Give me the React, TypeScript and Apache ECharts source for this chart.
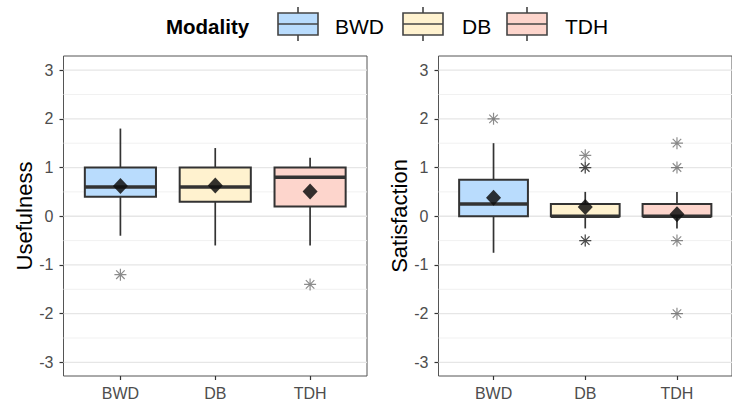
import React, { useEffect, useRef } from "react";
import * as echarts from "echarts";

// ---------- data ----------
const categories = ["BWD", "DB", "TDH"];
// [lower whisker, Q1, median, Q3, upper whisker]
const usefulnessBox = [
  [-0.4, 0.4, 0.6, 1.0, 1.8],
  [-0.6, 0.3, 0.6, 1.0, 1.4],
  [-0.6, 0.2, 0.8, 1.0, 1.2],
];
const usefulnessMean = [0.62, 0.63, 0.51];
const usefulnessOutliers = [
  [0, -1.2],
  [2, -1.4],
];
const satisfactionBox = [
  [-0.75, 0, 0.25, 0.75, 1.5],
  [-0.25, 0, 0, 0.25, 0.5],
  [-0.25, 0, 0, 0.25, 0.5],
];
const satisfactionMean = [0.38, 0.19, 0.04];
const satisfactionOutliers = [
  [0, 2],
  [1, 1.25],
  [1, 1],
  [1, 1],
  [1, -0.5],
  [1, -0.5],
  [2, 1.5],
  [2, 1],
  [2, -0.5],
  [2, -2],
];
const yTicks = [-3, -2, -1, 0, 1, 2, 3];
const yMinorTicks = [-2.5, -1.5, -0.5, 0.5, 1.5, 2.5];
const xTicks = [0, 1, 2];
const legendTitle = "Modality";

// ---------- styles ----------
const FONT = "'Liberation Sans', Arial, sans-serif";
const fills = ["#b9dcfd", "#fff2cf", "#fdd5cc"];
const boxStroke = "#333333";
const X_MIN = -0.6;
const X_MAX = 2.6;
const Y_MIN = -3.28;
const Y_MAX = 3.29;

const boxRender = (params: any, api: any) => {
  const x = api.value(0);
  const low = api.coord([x, api.value(1)]);
  const q1 = api.coord([x, api.value(2)]);
  const med = api.coord([x, api.value(3)]);
  const q3 = api.coord([x, api.value(4)]);
  const high = api.coord([x, api.value(5)]);
  const half = api.size([0.75, 0])[0] / 2;
  const cx = med[0];
  return {
    type: "group",
    children: [
      {
        type: "line",
        shape: { x1: cx, y1: high[1], x2: cx, y2: q3[1] },
        style: { stroke: boxStroke, lineWidth: 1.7 },
      },
      {
        type: "line",
        shape: { x1: cx, y1: q1[1], x2: cx, y2: low[1] },
        style: { stroke: boxStroke, lineWidth: 1.7 },
      },
      {
        type: "rect",
        shape: { x: cx - half, y: q3[1], width: half * 2, height: q1[1] - q3[1] },
        style: { fill: fills[params.dataIndex], stroke: boxStroke, lineWidth: 2 },
      },
      {
        type: "line",
        shape: { x1: cx - half, y1: med[1], x2: cx + half, y2: med[1] },
        style: { stroke: boxStroke, lineWidth: 3.4 },
      },
    ],
  };
};

const gridRender = (params: any, api: any) => {
  const v = api.value(1);
  const major = api.value(2) === 1;
  const p1 = api.coord([X_MIN, v]);
  const p2 = api.coord([X_MAX, v]);
  return {
    type: "line",
    shape: { x1: p1[0], y1: p1[1], x2: p2[0], y2: p2[1] },
    style: { stroke: major ? "#e6e6e6" : "#f1f1f1", lineWidth: major ? 1.3 : 1 },
  };
};

const asterisk =
  "path://M0,-1L0,1M-1,0L1,0M-0.71,-0.71L0.71,0.71M-0.71,0.71L0.71,-0.71";

function panelSeries(idx: number, box: number[][], mean: number[], outliers: number[][]) {
  return [
    {
      type: "custom",
      xAxisIndex: idx,
      yAxisIndex: idx,
      z: 1,
      silent: true,
      encode: { x: 0, y: 1 },
      data: [
        ...yMinorTicks.map((v) => [X_MIN, v, 0]),
        ...yTicks.map((v) => [X_MIN, v, 1]),
      ],
      renderItem: gridRender,
    },
    {
      type: "custom",
      xAxisIndex: idx,
      yAxisIndex: idx,
      z: 2,
      encode: { x: 0, y: [1, 2, 3, 4, 5] },
      data: box.map((b, i) => [i, ...b]),
      renderItem: boxRender,
    },
    {
      type: "scatter",
      xAxisIndex: idx,
      yAxisIndex: idx,
      z: 3,
      symbol: "diamond",
      symbolSize: [15, 16],
      itemStyle: { color: "rgba(15,15,15,0.85)", opacity: 1 },
      data: mean.map((m, i) => [i, m]),
    },
    {
      type: "scatter",
      xAxisIndex: idx,
      yAxisIndex: idx,
      z: 3,
      symbol: asterisk,
      symbolSize: 12,
      itemStyle: {
        color: "transparent",
        borderColor: "rgba(0,0,0,0.45)",
        borderWidth: 1.2,
        opacity: 1,
      },
      data: outliers,
    },
  ];
}

function xAxisCfg(gridIndex: number) {
  return {
    type: "value",
    gridIndex,
    min: X_MIN,
    max: X_MAX,
    axisLine: { show: false, onZero: false },
    splitLine: { show: false },
    axisTick: { show: true, length: 4, customValues: xTicks, lineStyle: { color: "#333", width: 1.2 } },
    axisLabel: {
      customValues: xTicks,
      formatter: (v: number) => categories[v] ?? "",
      fontSize: 16,
      color: "#4d4d4d",
      fontFamily: FONT,
      margin: 9,
    },
  };
}

function yAxisCfg(gridIndex: number, name: string) {
  return {
    type: "value",
    gridIndex,
    min: Y_MIN,
    max: Y_MAX,
    name,
    nameLocation: "middle",
    nameGap: 28,
    nameTextStyle: { fontSize: 22, color: "#000", fontFamily: FONT },
    axisLine: { show: false, onZero: false },
    splitLine: { show: false },
    axisTick: { show: true, length: 4, customValues: yTicks, lineStyle: { color: "#333", width: 1.2 } },
    axisLabel: {
      customValues: yTicks,
      fontSize: 16,
      color: "#4d4d4d",
      fontFamily: FONT,
      margin: 10,
    },
  };
}

function legendKey(x: number, color: string) {
  const w = 40;
  const cx = x + w / 2;
  const s = { stroke: "#444", lineWidth: 1.6 };
  return [
    { type: "line", shape: { x1: cx, y1: 7, x2: cx, y2: 13 }, style: s },
    { type: "line", shape: { x1: cx, y1: 35, x2: cx, y2: 41 }, style: s },
    { type: "rect", shape: { x, y: 13, width: w, height: 22 }, style: { fill: color, ...s } },
    { type: "line", shape: { x1: x, y1: 24, x2: x + w, y2: 24 }, style: s },
  ];
}

export default function App() {
  const ref = useRef<HTMLDivElement>(null);
  useEffect(() => {
    if (!ref.current) return;
    const chart = echarts.init(ref.current, undefined, { renderer: "svg" });
    const keyX = [278, 403, 507];
    const labelX = [335, 462, 565];
    const legendGraphics: any[] = [
      {
        type: "text",
        x: 166,
        y: 26,
        style: {
          text: legendTitle,
          fontSize: 20.5,
          fontWeight: "bold",
          fontFamily: FONT,
          fill: "#000",
          verticalAlign: "middle",
        },
      },
    ];
    categories.forEach((c, i) => {
      legendGraphics.push(...legendKey(keyX[i], fills[i]));
      legendGraphics.push({
        type: "text",
        x: labelX[i],
        y: 26,
        style: { text: c, fontSize: 21, fontFamily: FONT, fill: "#000", verticalAlign: "middle" },
      });
    });
    chart.setOption({
      animation: false,
      backgroundColor: "#fff",
      grid: [
        { left: 63.5, top: 56, width: 303.5, height: 320, show: true, borderColor: "#555", borderWidth: 1, backgroundColor: "#fff" },
        { left: 438.5, top: 56, width: 303.5, height: 320, show: true, borderColor: "#555", borderWidth: 1, backgroundColor: "#fff" },
      ],
      xAxis: [xAxisCfg(0), xAxisCfg(1)],
      yAxis: [yAxisCfg(0, "Usefulness"), yAxisCfg(1, "Satisfaction")],
      graphic: legendGraphics,
      series: [
        ...panelSeries(0, usefulnessBox, usefulnessMean, usefulnessOutliers),
        ...panelSeries(1, satisfactionBox, satisfactionMean, satisfactionOutliers),
      ],
    });
    return () => chart.dispose();
  }, []);
  return (
    <div
      ref={ref}
      style={{ position: "fixed", left: 0, top: 0, width: 732, height: 404 }}
    />
  );
}
